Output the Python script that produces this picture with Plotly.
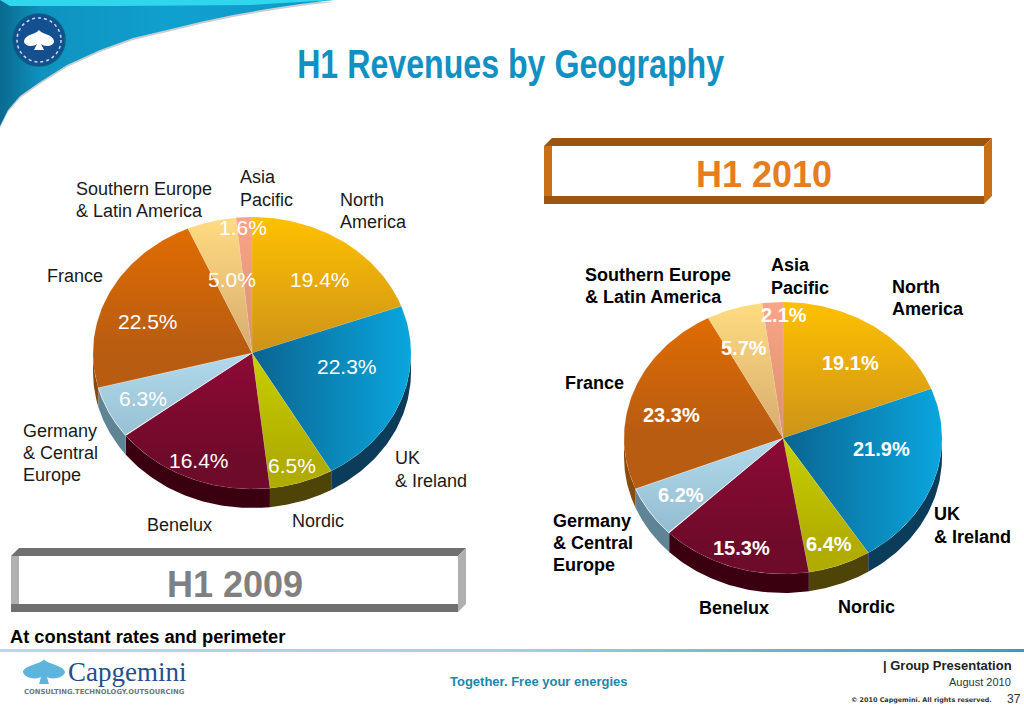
import numpy as np
import plotly.graph_objects as go

W, H = 1024, 709

# Data
regions = ['North America', 'UK & Ireland', 'Nordic', 'Benelux',
           'Germany & Central Europe', 'France',
           'Southern Europe & Latin America', 'Asia Pacific']
values_2009 = [19.4, 22.3, 6.5, 16.4, 6.3, 22.5, 5.0, 1.6]
values_2010 = [19.1, 21.9, 6.4, 15.3, 6.2, 23.3, 5.7, 2.1]

# Slice colours: bright end of face, dark end of face, side wall
face_top = ['#FFC000', '#0AA6DE', '#C8D000', '#8E0A36', '#B2DAEC', '#E46E00', '#FFDC80', '#FCA488']
face_low = ['#CE9418', '#0B6490', '#B0AC00', '#6E0A2A', '#8FB8CC', '#B85C12', '#D8AC70', '#D89070']
side_col = ['#7A5A00', '#0B3D5A', '#4E4408', '#3A0010', '#5E8496', '#8A4A08', '#8A6A30', '#8A5A40']
grad_dir = ['vertical', 'horizontal', 'low', 'low', 'low', 'vertical', 'vertical', 'vertical']

# Label text and its placement (left edge, line centres), in slide pixels
label_text = [['North', 'America'], ['UK', '& Ireland'], ['Nordic'], ['Benelux'],
              ['Germany', '& Central', 'Europe'], ['France'],
              ['Southern Europe', '& Latin America'], ['Asia', 'Pacific']]
label_pos_2009 = [(339, [200, 222]), (394, [458, 481]), (291, [521]), (146, [525]),
                  (22, [431, 453, 475]), (46, [276]), (75, [189, 211]), (239, [177, 200])]
label_pos_2010 = [(891, [287, 309]), (933, [514, 537]), (837, [607]), (698, [608]),
                  (552, [521, 543, 565]), (564, [383]), (584, [275, 297]), (770, [265, 288])]
pct_pos_2009 = [(320, 279), (347, 366), (292, 465), (199, 460), (143, 398), (148, 321), (232, 279), (243, 227)]
pct_pos_2010 = [(850, 363), (881, 449), (829, 544), (741, 548), (681, 495), (671, 415), (744, 348), (784, 315)]

RX, RY, DEPTH = 159, 136, 19
FONT = 'Liberation Sans'


def add_pie(fig, values, xa, ya):
    total = sum(values)
    edges = np.cumsum([0] + values) / total * 360
    # side walls first, only the front half of the rim shows
    for i, name in enumerate(regions):
        a, b = max(edges[i], 90), min(edges[i + 1], 270)
        if b <= a:
            continue
        t = np.radians(np.linspace(a, b, 60))
        x = np.sin(t)
        y = np.cos(t)
        fig.add_trace(go.Scatter(
            x=np.r_[x, x[::-1]], y=np.r_[y, y[::-1] - DEPTH / RY],
            mode='lines', fill='toself', fillcolor=side_col[i],
            line=dict(width=0), hoverinfo='skip', xaxis=xa, yaxis=ya))
    for i, name in enumerate(regions):
        t = np.radians(np.linspace(edges[i], edges[i + 1], 80))
        x = np.r_[0, np.sin(t), 0]
        y = np.r_[0, np.cos(t), 0]
        if grad_dir[i] == 'vertical':
            grad = dict(type='vertical', start=1, stop=-0.3,
                        colorscale=[[0, face_top[i]], [0.75, face_low[i]], [1, face_low[i]]])
        elif grad_dir[i] == 'low':
            grad = dict(type='vertical', start=0, stop=-1,
                        colorscale=[[0, face_top[i]], [0.8, face_low[i]], [1, face_low[i]]])
        else:
            grad = dict(type='horizontal', start=0, stop=1,
                        colorscale=[[0, face_low[i]], [1, face_top[i]]])
        edge = 'rgba(255,255,255,0.75)' if i == 4 else 'rgba(255,255,255,0.12)'
        fig.add_trace(go.Scatter(
            x=x, y=y, mode='lines', fill='toself', fillgradient=grad,
            line=dict(width=0.8, color=edge), name=name,
            text=f'{name}: {values[i]:.1f}%', hoverinfo='text', xaxis=xa, yaxis=ya))


def pie_axes(cx, cy):
    # axis ranges in unit-circle terms, the domains stretch the circle to the slide's ellipse
    pad_x, top, low = 1.02, 1.02, 1 + (DEPTH + 3) / RY
    xax = dict(domain=[(cx - RX * pad_x) / W, (cx + RX * pad_x) / W], range=[-pad_x, pad_x], visible=False)
    yax = dict(domain=[1 - (cy + RY * low) / H, 1 - (cy - RY * top) / H], range=[-low, top], visible=False)
    return xax, yax


fig = go.Figure()

# Slide decoration on a pixel-scaled overlay axis
swoosh_x = [0, 340, 333, 300, 267, 233, 200, 167, 133, 100, 67, 40, 20, 8, 0]
swoosh_y = [0, 0, 0, 4, 9, 15, 22, 30, 38, 50, 65, 82, 96, 110, 126]
fig.add_trace(go.Scatter(
    x=swoosh_x, y=[v + 2 for v in swoosh_y], mode='lines', fill='toself', fillcolor='#C9CDD0',
    line=dict(width=0), hoverinfo='skip', xaxis='x3', yaxis='y3'))
fig.add_trace(go.Scatter(
    x=swoosh_x, y=swoosh_y, mode='lines', fill='toself',
    fillgradient=dict(type='horizontal', start=0, stop=340,
                      colorscale=[[0, '#0A6A90'], [0.12, '#0E92BE'], [0.5, '#10A0D0'], [1, '#1098C8']]),
    line=dict(width=0), hoverinfo='skip', xaxis='x3', yaxis='y3'))
fig.add_trace(go.Scatter(
    x=[0, 335, 250, 120, 10, 0], y=[0, 0, 5, 6, 6, 0], mode='lines', fill='toself', fillcolor='#2FD6EC',
    line=dict(width=0), hoverinfo='skip', xaxis='x3', yaxis='y3'))
fig.add_trace(go.Scatter(
    x=[0, 1024, 1024, 0, 0], y=[649, 649, 652, 652, 649], mode='lines', fill='toself',
    fillgradient=dict(type='horizontal', start=0, stop=1024,
                      colorscale=[[0, '#B5DAE6'], [0.5, '#A4D0E0'], [1, '#3A9ABC']]),
    line=dict(width=0), hoverinfo='skip', xaxis='x3', yaxis='y3'))

add_pie(fig, values_2009, 'x', 'y')
add_pie(fig, values_2010, 'x2', 'y2')

ax1, ay1 = pie_axes(252, 353)
ax2, ay2 = pie_axes(783, 438)


def poly(points, color):
    path = 'M' + ' L'.join(f'{x},{y}' for x, y in points) + ' Z'
    return dict(type='path', path=path, xref='x3', yref='y3', fillcolor=color, line=dict(width=0))


def box(x0, y0, x1, y1, b, top_col, side):
    return [poly([(x0, y0 + b), (x0 + b, y0), (x1, y0), (x1 - b, y0 + b)], top_col),
            poly([(x0, y0 + b), (x0 + b, y0 + b), (x0 + b, y1 - b), (x0, y1)], side),
            poly([(x1 - b, y0 + b), (x1, y0), (x1, y1 - b), (x1 - b, y1)], side),
            poly([(x0, y1 - b), (x1 - b, y1 - b), (x1 - b, y1), (x0, y1)], top_col)]


shapes = []
shapes += box(11, 548, 466, 612, 8, '#707070', '#B0B0B0')
shapes += box(544, 138, 992, 204, 8, '#9A5510', '#C87018')

# round badge in the swoosh
shapes.append(dict(type='circle', xref='x3', yref='y3', x0=13, y0=14, x1=65, y1=66,
                   fillcolor='#14508F', line=dict(color='#0A5E84', width=1.5)))
shapes.append(dict(type='circle', xref='x3', yref='y3', x0=17, y0=18, x1=61, y1=62,
                   fillcolor='rgba(0,0,0,0)', line=dict(color='#C8DCEE', width=1.5, dash='dot')))
shapes.append(dict(type='path', xref='x3', yref='y3', fillcolor='white', line=dict(width=0),
                   path='M39,30 C41,34 53,34 54,41 C54,47 44,47 41,44 L44,50 L34,50 L37,44 '
                        'C34,47 24,47 24,41 C25,34 37,34 39,30 Z'))
# Capgemini spade
shapes.append(dict(type='path', xref='x3', yref='y3', fillcolor='#5DB5DD', line=dict(width=0),
                   path='M44,659 C46,664 64,665 65,672 C64,678 52,680 47,677 L49,684 L39,684 L41,677 '
                        'C36,680 24,678 23,672 C24,665 42,664 44,659 Z'))

annotations = []


def put(text, x, y, size, color='black', bold=False, anchor='left', family=FONT):
    if bold:
        text = f'<b>{text}</b>'
    annotations.append(dict(text=text, x=x, y=y, xref='x3', yref='y3', xanchor=anchor, yanchor='middle',
                            showarrow=False, align=anchor, borderpad=0,
                            font=dict(family=family, size=size, color=color)))


for lines, (x, ys) in zip(label_text, label_pos_2009):
    for line, y in zip(lines, ys):
        put(line, x, y, 18, '#1A1A1A')
for lines, (x, ys) in zip(label_text, label_pos_2010):
    for line, y in zip(lines, ys):
        put(line, x, y, 18, 'black', bold=True)
for v, (x, y) in zip(values_2009, pct_pos_2009):
    put(f'{v:.1f}%', x, y, 21, 'white', anchor='center')
for v, (x, y) in zip(values_2010, pct_pos_2010):
    put(f'{v:.1f}%', x, y, 20, 'white', bold=True, anchor='center')

put('H1 Revenues by Geography', 511, 64, 40, '#1190C2', bold=True, anchor='center')
put('H1 2009', 235, 584, 36, '#808080', bold=True, anchor='center')
put('H1 2010', 764, 174, 36, '#E57E1E', bold=True, anchor='center')
put('At constant rates and perimeter', 9, 636, 18.3, 'black', bold=True)
put('Capgemini', 67, 672, 27, '#1F4F8E', family='Liberation Serif')
put('CONSULTING.TECHNOLOGY.OUTSOURCING', 23, 692, 6.8, '#70767C', bold=True, family='DejaVu Sans')
put('Together. Free your energies', 449, 681, 13, '#1B87AF', bold=True)
put('| Group Presentation', 1013, 665, 13, '#222222', bold=True, anchor='right')
put('August 2010', 1012, 682, 11, '#333333', anchor='right')
put('© 2010 Capgemini. All rights reserved.', 993, 700, 6.4, '#333333', bold=True, anchor='right', family='DejaVu Sans')
put('37', 1014, 699, 12, '#333333', anchor='center')

fig.update_layout(
    width=W, height=H, margin=dict(l=0, r=0, t=0, b=0),
    paper_bgcolor='white', plot_bgcolor='rgba(0,0,0,0)',
    showlegend=False, shapes=shapes, annotations=annotations,
    xaxis=ax1, yaxis=ay1,
    xaxis2=ax2, yaxis2=ay2,
    xaxis3=dict(domain=[0, 1], range=[0, W], visible=False),
    yaxis3=dict(domain=[0, 1], range=[H, 0], visible=False),
)

# the slide title is set in a narrow face, squeeze the glyphs to its width
squeeze = """
document.body.style.margin='0';document.body.style.overflow='hidden';
document.querySelectorAll('.annotation-text').forEach(function (t) {
  if (t.textContent.indexOf('H1 Revenues') === 0) {
    t.setAttribute('textLength', '427');
    t.setAttribute('lengthAdjust', 'spacingAndGlyphs');
  }
});
"""
fig.write_html('out.html', config={'displayModeBar': False}, post_script=squeeze)
